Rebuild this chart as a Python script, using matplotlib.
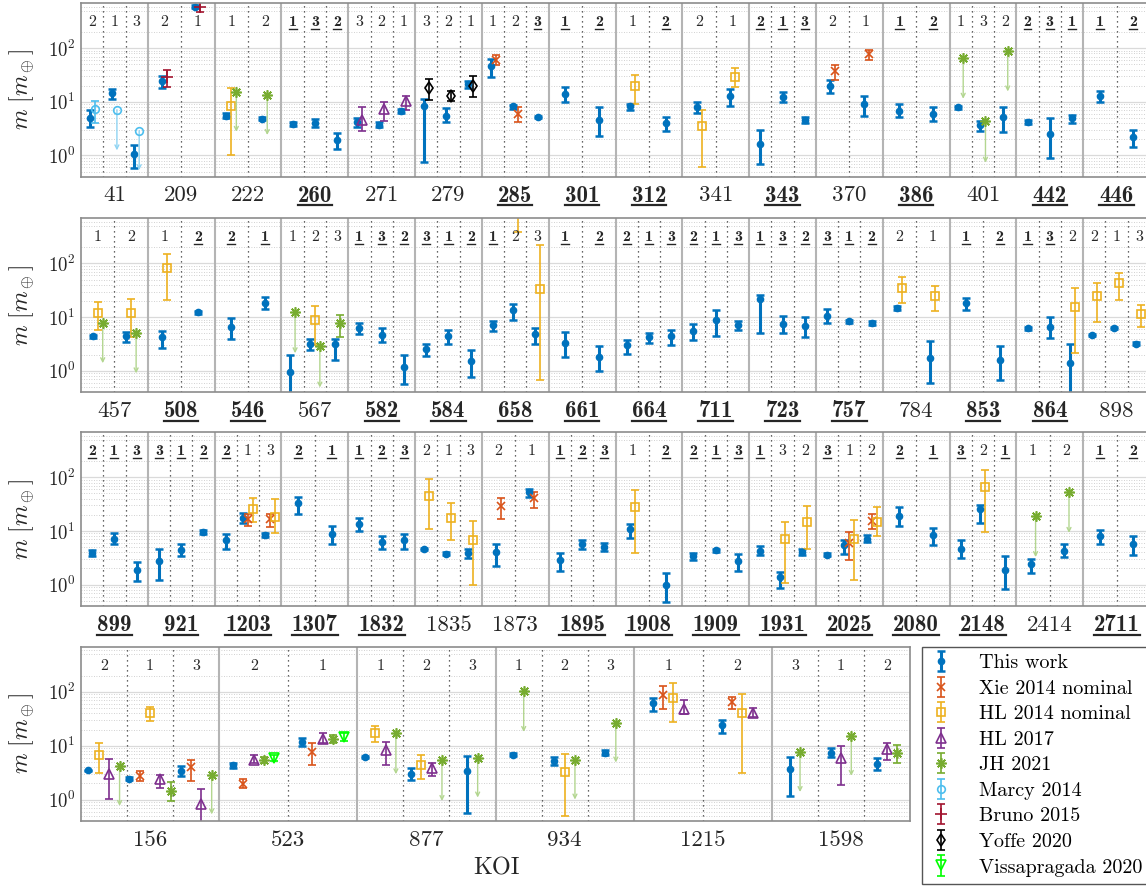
import numpy as np
import matplotlib
matplotlib.use('Agg')
import matplotlib.pyplot as plt
from matplotlib.ticker import LogLocator, NullFormatter
from matplotlib.lines import Line2D

plt.rcParams['font.family'] = 'cmr10'
plt.rcParams['mathtext.fontset'] = 'cm'
plt.rcParams['axes.formatter.use_mathtext'] = True

# systems per row ('*' = bold / underlined)
kois1 = ['41', '209', '222', '260*', '271', '279', '285*', '301*', '312*', '341', '343*', '370', '386*', '401', '442*', '446*']
planets1 = ['2 1 3', '2 1', '1 2', '1* 3* 2*', '3 2 1', '3 2 1', '1 2 3*', '1* 2*', '1 2*', '2 1',
            '2* 1* 3*', '2 1', '1* 2*', '1 3 2', '2* 3* 1*', '1* 2*']
kois2 = ['457', '508*', '546*', '567', '582*', '584*', '658*', '661*', '664*', '711*', '723*', '757*', '784', '853*', '864*', '898']
planets2 = ['1 2', '1 2*', '2* 1*', '1 2 3', '1* 3* 2*', '3* 1* 2*', '1* 2 3', '1* 2*', '2* 1* 3*', '2* 1* 3*',
            '1* 3* 2*', '3* 1* 2*', '2 1', '1* 2*', '1* 3* 2', '2 1 3']
kois3 = ['899*', '921*', '1203*', '1307*', '1832*', '1835', '1873', '1895*', '1908*', '1909*', '1931*', '2025*', '2080*', '2148*', '2414', '2711*']
planets3 = ['2* 1* 3*', '3* 1* 2*', '2* 1 3', '2* 1*', '1* 2* 3*', '2 1 3', '2 1', '1* 2* 3*', '1 2*', '2* 1* 3*',
            '1* 3 2', '3* 1 2', '2* 1*', '3* 2 1*', '1 2', '1* 2*']
kois4 = ['156', '523', '877', '934', '1215', '1598']
planets4 = ['2 1 3', '2 1', '1 2 3', '1 2 3', '1 2', '3 1 2']

# (KOI, planet, mass, low, high); high=None -> upper limit arrow down to low
this_work = [
    ('41', 2, 5.0, 3.4, 6.9), ('41', 1, 14.6, 11.4, 17.3), ('41', 3, 1.07, 0.59, 1.55),
    ('209', 2, 24, 18.1, 29.7), ('209', 1, 600, 570, 630),
    ('222', 1, 5.5, 5.0, 6.2), ('222', 2, 4.8, 4.5, 5.2),
    ('260', 1, 3.9, 3.6, 4.2), ('260', 3, 4.0, 3.4, 4.7), ('260', 2, 1.92, 1.29, 2.64),
    ('271', 3, 4.15, 3.4, 4.9), ('271', 2, 3.65, 3.35, 4.15), ('271', 1, 6.65, 6.1, 7.2),
    ('279', 3, 8.2, 0.75, 11.4), ('279', 2, 5.4, 4.15, 7.7), ('279', 1, 21.4, 18, 24),
    ('285', 1, 47.5, 28.5, 62.5), ('285', 2, 8.2, 7.2, 8.9), ('285', 3, 5.14, 4.9, 5.4),
    ('301', 1, 14.2, 9.9, 18.9), ('301', 2, 4.66, 2.28, 7.9),
    ('312', 1, 8.2, 6.9, 9.2), ('312', 2, 4.05, 2.9, 5.1),
    ('341', 2, 8.0, 6.2, 9.9), ('341', 1, 12.6, 8.2, 17.3),
    ('343', 2, 1.65, 0.7, 2.95), ('343', 1, 12.1, 9.8, 15), ('343', 3, 4.5, 3.95, 5.1),
    ('370', 2, 20, 14.6, 25.8), ('370', 1, 9.1, 5.4, 13),
    ('386', 1, 6.85, 5.1, 9.2), ('386', 2, 6.0, 4.3, 8.0),
    ('401', 1, 7.9, 7.4, 8.4), ('401', 3, 3.65, 2.9, 4.3), ('401', 2, 5.14, 2.75, 7.9),
    ('442', 2, 4.15, 3.8, 4.5), ('442', 3, 2.56, 0.9, 5.0), ('442', 1, 5.0, 4.1, 5.7),
    ('446', 1, 12.6, 9.9, 15.6), ('446', 2, 2.22, 1.43, 2.95),
    ('457', 1, 4.38, 4.1, 4.6), ('457', 2, 4.43, 3.5, 5.3),
    ('508', 1, 4.25, 2.7, 5.5), ('508', 2, 12.4, 11.6, 13.2),
    ('546', 2, 6.5, 3.85, 9.6), ('546', 1, 18.7, 14, 23.8),
    ('567', 1, 0.94, 0.3, 2.0), ('567', 2, 3.2, 2.47, 3.85), ('567', 3, 3.2, 1.63, 3.96),
    ('582', 1, 6.25, 4.9, 7.8), ('582', 3, 4.7, 3.4, 6.25), ('582', 2, 1.2, 0.57, 2.0),
    ('584', 3, 2.58, 1.93, 3.1), ('584', 1, 4.43, 3.1, 5.8), ('584', 2, 1.56, 0.78, 2.5),
    ('658', 1, 7.0, 5.5, 8.4), ('658', 2, 13.4, 8.7, 17.4), ('658', 3, 4.77, 3.1, 6.25),
    ('661', 1, 3.34, 1.8, 5.3), ('661', 2, 1.85, 1.0, 2.88),
    ('664', 2, 3.06, 2.08, 3.8), ('664', 1, 4.25, 3.34, 5.05), ('664', 3, 4.43, 2.97, 5.8),
    ('711', 2, 5.5, 3.68, 7.6), ('711', 1, 9.0, 4.38, 13.4), ('711', 3, 7.0, 5.8, 8.4),
    ('723', 1, 21.5, 5.05, 25.6), ('723', 3, 7.56, 5.05, 10.3), ('723', 2, 6.8, 4.25, 10),
    ('757', 3, 10.5, 7.8, 14), ('757', 1, 8.35, 7.7, 9.0), ('757', 2, 7.8, 7.0, 8.6),
    ('784', 2, 14.8, 13.8, 15.9), ('784', 1, 1.75, 0.59, 3.57),
    ('853', 1, 18.4, 13.4, 22.7), ('853', 2, 1.63, 0.68, 2.88),
    ('864', 1, 6.25, 5.8, 6.7), ('864', 3, 6.7, 4.07, 10), ('864', 2, 1.39, 0.3, 3.2),
    ('898', 2, 4.7, 4.5, 4.9), ('898', 1, 6.37, 6.1, 6.6), ('898', 3, 3.2, 3.0, 3.4),
    ('899', 2, 3.94, 3.4, 4.4), ('899', 1, 7.2, 5.8, 9.0), ('899', 3, 1.89, 1.19, 2.6),
    ('921', 3, 2.7, 1.24, 4.7), ('921', 1, 4.36, 3.36, 5.6), ('921', 2, 9.4, 8.6, 10.3),
    ('1203', 2, 6.7, 4.7, 8.7), ('1203', 1, 17.6, 14.2, 21.9), ('1203', 3, 8.3, 7.6, 9.0),
    ('1307', 2, 32.9, 20.4, 43.8), ('1307', 1, 8.6, 5.6, 12.3),
    ('1832', 1, 13.3, 10, 17.6), ('1832', 2, 6.2, 4.7, 8.0), ('1832', 3, 6.7, 4.7, 8.7),
    ('1835', 2, 4.69, 4.5, 4.9), ('1835', 1, 3.78, 3.5, 4.1), ('1835', 3, 3.94, 3.2, 4.6),
    ('1873', 2, 4.05, 2.2, 5.8), ('1873', 1, 53, 43.8, 61),
    ('1895', 1, 2.83, 1.78, 3.88), ('1895', 2, 5.82, 4.7, 6.8), ('1895', 3, 5.0, 4.2, 5.9),
    ('1908', 1, 10.7, 7.4, 13.4), ('1908', 2, 1.0, 0.47, 1.63),
    ('1909', 2, 3.41, 2.9, 3.94), ('1909', 1, 4.36, 4.0, 4.7), ('1909', 3, 2.7, 1.83, 3.66),
    ('1931', 1, 4.23, 3.5, 5.3), ('1931', 3, 1.37, 0.87, 1.75), ('1931', 2, 4.05, 3.5, 4.6),
    ('2025', 3, 3.62, 3.35, 3.9), ('2025', 1, 5.57, 3.78, 6.7), ('2025', 2, 7.2, 6.2, 8.4),
    ('2080', 2, 19.2, 12.5, 27.7), ('2080', 1, 8.3, 5.57, 11.4),
    ('2148', 3, 4.7, 3.18, 6.7), ('2148', 2, 25.4, 13.8, 30.5), ('2148', 1, 1.91, 0.83, 3.36),
    ('2414', 1, 2.38, 1.63, 3.04), ('2414', 2, 4.17, 3.26, 5.65),
    ('2711', 1, 8.1, 5.82, 10.4), ('2711', 2, 5.65, 3.6, 8.1),
    ('156', 2, 3.5, 3.4, 3.6), ('156', 1, 2.46, 2.35, 2.58), ('156', 3, 3.4, 2.75, 4.2),
    ('523', 2, 4.34, 3.85, 4.8), ('523', 1, 11.8, 9.9, 14),
    ('877', 1, 6.2, 6.0, 6.4), ('877', 2, 3.04, 2.28, 3.87), ('877', 3, 3.36, 0.56, 6.46),
    ('934', 1, 6.86, 6.4, 7.3), ('934', 2, 5.15, 4.3, 6.3), ('934', 3, 7.48, 6.6, 8.5),
    ('1215', 1, 62.5, 43.8, 77), ('1215', 2, 24, 17.6, 29.8),
    ('1598', 3, 3.77, 1.17, 6.2), ('1598', 1, 7.48, 6.3, 8.9), ('1598', 2, 4.67, 3.5, 5.93),
]
xie_2014 = [
    ('285', 1, 60.6, 49, 75), ('285', 2, 6.0, 4.2, 8.0),
    ('370', 2, 36.8, 25, 49), ('370', 1, 77, 60.6, 93),
    ('1203', 1, 16.5, 12.5, 20.7), ('1203', 3, 16.5, 11.9, 20.7),
    ('1873', 2, 29.3, 16.5, 41.9), ('1873', 1, 40.8, 27.2, 54.3),
    ('2025', 1, 6.08, 2.83, 9.6), ('2025', 2, 15.5, 10.7, 20.7),
    ('156', 1, 2.75, 2.2, 3.4), ('156', 3, 4.04, 2.2, 5.5),
    ('523', 2, 1.98, 1.67, 2.46), ('523', 1, 7.5, 4.34, 11),
    ('1215', 1, 86.8, 47.7, 128), ('1215', 2, 63.5, 47.7, 80.7),
]
hl_2014 = [
    ('222', 1, 8.5, 1.01, 18.1), ('312', 1, 20, 9.2, 31),
    ('341', 2, 3.5, 0.61, 6.9), ('341', 1, 28.9, 18.9, 42.5),
    ('457', 1, 12.1, 5.8, 19.2), ('457', 2, 11.9, 4.25, 22.2),
    ('508', 1, 82.8, 20.6, 149), ('567', 2, 8.7, 3.06, 16.1),
    ('658', 2, 1500, 390, 3000), ('658', 3, 34.1, 0.69, 220),
    ('784', 2, 35, 18.7, 54.7), ('784', 1, 24.5, 13, 38),
    ('864', 2, 15.4, 2.17, 35.6),
    ('898', 2, 24.8, 8.1, 44), ('898', 1, 42.3, 21.2, 67), ('898', 3, 11.3, 6.7, 16.6),
    ('1203', 1, 25.4, 14.8, 40.8), ('1203', 3, 18.4, 9.0, 39.6),
    ('1835', 2, 45.7, 11.1, 94), ('1835', 1, 17.6, 6.7, 32.9), ('1835', 3, 6.9, 1.0, 15.5),
    ('1908', 1, 28.4, 3.94, 58.5),
    ('1931', 3, 7.2, 1.08, 14.8), ('1931', 2, 14.4, 4.55, 29.3),
    ('2025', 1, 7.0, 1.24, 16), ('2025', 2, 14.8, 8.0, 27.7),
    ('2148', 2, 67.4, 9.6, 139),
    ('156', 2, 6.66, 3.18, 11.3), ('156', 1, 39.7, 28.5, 52.6),
    ('877', 1, 17.3, 11.5, 23.3), ('877', 2, 4.34, 2.46, 6.86),
    ('934', 2, 3.26, 0.5, 6.95),
    ('1215', 1, 77, 27.7, 147), ('1215', 2, 39.7, 3.18, 93),
]
hl_2017 = [
    ('271', 3, 4.66, 2.9, 8.0), ('271', 2, 7.4, 4.3, 9.8), ('271', 1, 10.2, 7.1, 12.6),
    ('156', 2, 2.95, 1.01, 5.78), ('156', 1, 2.46, 1.67, 2.9), ('156', 3, 0.82, 0.3, 1.6),
    ('523', 2, 5.54, 4.79, 6.66), ('523', 1, 13.6, 11, 16.9),
    ('877', 1, 8.5, 4.34, 11.5), ('877', 2, 3.94, 2.7, 4.87),
    ('1215', 1, 47.7, 38.5, 72), ('1215', 2, 39.7, 34.3, 50.4),
    ('1598', 1, 6.04, 1.9, 9.9), ('1598', 2, 8.87, 5.54, 11),
]
jh_2021 = [
    ('222', 1, 15.2, 2.75, None), ('222', 2, 13.6, 2.4, None),
    ('401', 1, 67, 11.4, None), ('401', 3, 4.3, 0.73, None), ('401', 2, 90, 15.6, None),
    ('457', 1, 7.9, 1.39, None), ('457', 2, 5.1, 0.9, None),
    ('567', 1, 12.4, 2.13, None), ('567', 2, 2.88, 0.49, None), ('567', 3, 7.9, 4.25, 10.8),
    ('2414', 1, 19, 3.26, None), ('2414', 2, 53, 9.2, None),
    ('156', 2, 4.16, 0.76, None), ('156', 1, 1.43, 0.94, 2.12), ('156', 3, 2.83, 0.53, None),
    ('523', 2, 5.38, 4.7, 6.2), ('523', 1, 13.6, 11, 16),
    ('877', 1, 16.9, 2.95, None), ('877', 2, 5.54, 0.94, None), ('877', 3, 6.03, 1.09, None),
    ('934', 1, 103, 18, None), ('934', 2, 5.38, 1.0, None), ('934', 3, 26.5, 4.87, None),
    ('1598', 3, 7.67, 1.38, None), ('1598', 1, 15.2, 2.75, None), ('1598', 2, 7.35, 4.79, 10.5),
]
marcy_2014 = [('41', 2, 7.5, 4.0, 10.5), ('41', 1, 7.1, 1.24, None), ('41', 3, 2.9, 0.53, None)]
bruno_2015 = [('209', 2, 29, 18.9, 39.5), ('209', 1, 590, 480, 720)]
yoffe_2020 = [('279', 3, 17.8, 11, 26.6), ('279', 2, 12.6, 10.2, 15.6), ('279', 1, 19.4, 12.3, 29.7)]
vissapragada_2020 = [('523', 2, 5.93, 5.2, 6.6), ('523', 1, 14.6, 12.3, 16.9)]

methods = [
    ('This work', this_work, dict(color='#0072BD', marker='o', ms=4.5, mfc='#0072BD', elinewidth=2.2, capsize=2.8, capthick=1.8), None),
    ('Xie 2014 nominal', xie_2014, dict(color='#D95319', marker='x', ms=5.5, mew=1.2, elinewidth=1.2, capsize=3, capthick=1.2), None),
    ('HL 2014 nominal', hl_2014, dict(color='#EDB120', marker='s', ms=5.5, mfc='none', mew=1.2, elinewidth=1.2, capsize=3, capthick=1.2), None),
    ('HL 2017', hl_2017, dict(color='#7E2F8E', marker='^', ms=6.5, mfc='none', mew=1.2, elinewidth=1.2, capsize=3, capthick=1.2), None),
    ('JH 2021', jh_2021, dict(color='#77AC30', marker=(8, 2, 0), ms=7.5, mew=1.2, elinewidth=1.2, capsize=3, capthick=1.2), '#b3d690'),
    ('Marcy 2014', marcy_2014, dict(color='#4DBEEE', marker='o', ms=5.5, mfc='none', mew=1.2, elinewidth=1.2, capsize=3, capthick=1.2), '#8fd4f3'),
    ('Bruno 2015', bruno_2015, dict(color='#A2142F', marker='+', ms=8, mew=1.2, elinewidth=1.2, capsize=3, capthick=1.2), None),
    ('Yoffe 2020', yoffe_2020, dict(color='black', marker='d', ms=6.5, mfc='none', mew=1.2, elinewidth=1.2, capsize=3, capthick=1.2), None),
    ('Vissapragada 2020', vissapragada_2020, dict(color='#00FF00', marker='v', ms=6.5, mfc='none', mew=1.2, elinewidth=1.2, capsize=3, capthick=1.2), None),
]

W, H = 1146, 888
fig = plt.figure(figsize=(W / 100, H / 100), dpi=100)
rows = [(kois1, planets1, 3.3, 176.7, 1150), (kois2, planets2, 218.3, 392.3, 1150),
        (kois3, planets3, 432.3, 606.0, 1150), (kois4, planets4, 646.7, 821.0, 910)]
tc = '#262626'
underlines = []
axes = []
pos = {}
for ri, (kois, planets, top, bot, right) in enumerate(rows):
    ax = fig.add_axes([81 / W, 1 - bot / H, (right - 81) / W, (bot - top) / H])
    axes.append(ax)
    n = len(kois)
    ax.set_xlim(0, n)
    ax.set_yscale('log')
    ax.set_ylim(0.4, 690)
    ax.yaxis.set_major_locator(LogLocator(base=10, numticks=10))
    ax.yaxis.set_minor_locator(LogLocator(base=10, subs=np.arange(2, 10), numticks=10))
    ax.yaxis.set_minor_formatter(NullFormatter())
    ax.set_xticks([])
    ax.tick_params(axis='y', which='both', length=0, pad=4, labelsize=13.5, labelcolor=tc)
    ax.set_axisbelow(True)
    ax.grid(True, which='major', axis='y', color='#dadada', lw=0.9, ls='-')
    ax.grid(True, which='minor', axis='y', color='#c2c2c2', lw=0.6, ls=(0, (1, 2)))
    ax.axhspan(215, 450, color='white', zorder=0.8, lw=0)
    for sp in ax.spines.values():
        sp.set_color('#8c8c8c')
        sp.set_linewidth(1.2)
    trans = ax.get_xaxis_transform()
    h = bot - top
    for i, (k, pl) in enumerate(zip(kois, planets)):
        bold = k.endswith('*')
        name = k.rstrip('*')
        t = ax.text(i + 0.5, -19 / h, name, transform=trans, ha='center', va='center',
                    fontsize=16.5, color=tc, clip_on=False,
                    family='cmb10' if bold else 'cmr10')
        if bold:
            underlines.append((t, 1.6, 16.5))
        labs = pl.split()
        m = len(labs)
        for j, lab in enumerate(labs):
            b = lab.endswith('*')
            num = int(lab.rstrip('*'))
            xc = i + (j + 0.5) / m
            pos[(name, num)] = (ri, xc)
            t = ax.text(xc, 1 - 19 / h, str(num), transform=trans, ha='center', va='center',
                        fontsize=11.5, color=tc, zorder=3, family='cmb10' if b else 'cmr10')
            if b:
                underlines.append((t, 1.0, 11.5))
            if j > 0:
                ax.axvline(i + j / m, color='#333333', lw=0.9, ls=(0, (1, 3)), zorder=1)
        if i > 0:
            ax.axvline(i, color='#b4b4b4', lw=1.5, zorder=1)
    fig.text(22 / W, 1 - (top + bot) / 2 / H, r'$m\ [m_\oplus]$', rotation=90,
             ha='center', va='center', fontsize=17, color=tc)

# which methods share each planet slot
slots = {}
for mi, (name, data, st, lc) in enumerate(methods):
    for e in data:
        slots.setdefault((e[0], e[1]), []).append(mi)

step = 0.075
for mi, (name, data, st, lc) in enumerate(methods):
    for koi, pl, m, lo, hi in data:
        ri, xc = pos[(koi, pl)]
        present = slots[(koi, pl)]
        x = xc + (present.index(mi) - (len(present) - 1) / 2) * step
        ax = axes[ri]
        if hi is None:
            ax.annotate('', xy=(x, lo), xytext=(x, m),
                        arrowprops=dict(arrowstyle='->', color=lc, lw=1.0, shrinkA=0, shrinkB=0,
                                        mutation_scale=7))
            ax.plot([x], [m], ls='none', marker=st['marker'], ms=st['ms'], color=st['color'],
                    mfc=st.get('mfc', st['color']), mew=st.get('mew', 1), zorder=3)
        else:
            ax.errorbar([x], [m], yerr=[[m - lo], [hi - m]], ls='none', zorder=2, **st)

handles = []
for name, data, st, lc in methods:
    hnd = axes[3].errorbar([np.nan], [np.nan], yerr=[[1], [1]], ls='none', **st)
    handles.append(hnd)
fig.legend(handles, [mm[0] for mm in methods], loc='upper left',
           bbox_to_anchor=(922 / W, 1 - 647 / H), borderaxespad=0, fontsize=14.5,
           frameon=True, fancybox=False, edgecolor='#555555', framealpha=1,
           labelspacing=0.37, handlelength=1.2, handletextpad=1.3, borderpad=0.35)

fig.text(496 / W, 1 - 868 / H, 'KOI', ha='center', va='center', fontsize=17.5, color=tc)

# underline the bold labels just below the digit baseline
fig.canvas.draw()
r = fig.canvas.get_renderer()
for t, lw, fs in underlines:
    bb = t.get_window_extent(r)
    cy = (bb.y0 + bb.y1) / 2
    y = (cy - 0.42 * fs * 100 / 72) / fig.bbox.height
    fig.add_artist(Line2D([bb.x0 / fig.bbox.width, bb.x1 / fig.bbox.width], [y, y],
                          transform=fig.transFigure, lw=lw, color=tc))

fig.savefig('out.png', dpi=100)
